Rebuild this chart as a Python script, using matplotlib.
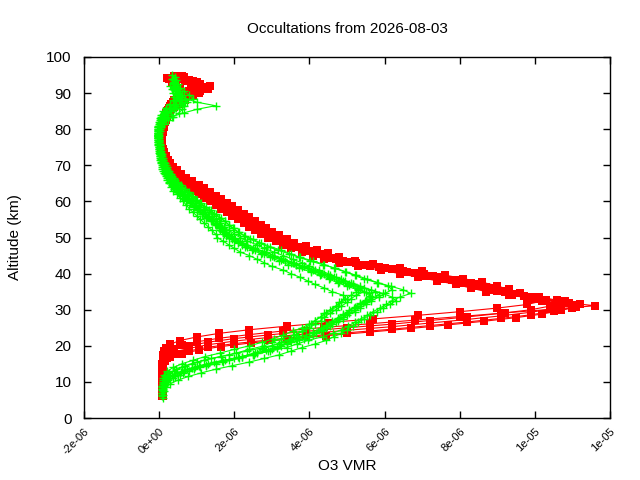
import matplotlib
matplotlib.use("Agg")
import matplotlib.pyplot as plt
import matplotlib.transforms as mtransforms

plt.rcParams['font.family'] = ['Liberation Sans', 'DejaVu Sans']

# ---------------- data (O3 VMR in units of 1e-6) ----------------
red_alt_grid = list(range(6, 95))      # km, 89 levels
red_alt_offsets = [0.0, 0.3, 0.6, 0.1, 0.45, 0.8]
red_a = [0.07, 0.07, 0.07, 0.07, 0.07, 0.07, 0.08, 0.08, 0.08, 0.08, 0.09,
         0.12, 0.2, 0.4, 0.8, 1.3, 2.0, 2.9, 3.9, 5.0, 6.2, 7.2, 8.2, 9.1, 9.9, 10.4,
         10.6, 10.1, 9.3, 8.7, 8.3, 7.9, 7.4, 6.9, 6.4, 5.9, 5.3, 4.8, 4.4, 4.1, 3.8,
         3.5, 3.3, 3.1, 2.9, 2.7, 2.55, 2.4, 2.25, 2.1, 1.95, 1.8, 1.65, 1.5, 1.35, 1.2,
         1.05, 0.92, 0.8, 0.67, 0.55, 0.45, 0.37, 0.29, 0.22, 0.17, 0.12, 0.09, 0.07, 0.06, 0.05,
         0.05, 0.06, 0.07, 0.08, 0.1, 0.12, 0.14, 0.17, 0.21, 0.26, 0.32, 0.4, 0.5, 0.6, 0.55,
         0.45, 0.35, 0.25]
red_b = [0.08, 0.08, 0.08, 0.08, 0.08, 0.08, 0.08, 0.09, 0.09, 0.09, 0.10,
         0.2, 0.4, 0.8, 1.3, 2.0, 2.9, 3.9, 5.0, 6.2, 7.2, 8.2, 9.1, 9.9, 10.5, 11.0,
         10.8, 10.0, 9.4, 9.0, 8.7, 8.3, 7.8, 7.3, 6.8, 6.2, 5.5, 5.0, 4.6, 4.3, 4.0,
         3.7, 3.45, 3.25, 3.05, 2.85, 2.7, 2.55, 2.4, 2.25, 2.1, 1.95, 1.8, 1.65, 1.5, 1.35,
         1.2, 1.05, 0.9, 0.75, 0.62, 0.5, 0.42, 0.33, 0.26, 0.2, 0.15, 0.11, 0.08, 0.07, 0.06,
         0.06, 0.07, 0.08, 0.1, 0.12, 0.14, 0.17, 0.2, 0.26, 0.33, 0.42, 0.55, 0.7, 0.85, 0.95,
         0.9, 0.7, 0.5]
red_c = [0.09, 0.09, 0.09, 0.09, 0.09, 0.09, 0.1, 0.1, 0.1, 0.11, 0.2,
         0.4, 0.8, 1.3, 2.0, 2.9, 3.9, 5.0, 6.2, 7.2, 8.2, 9.1, 9.9, 10.5, 11.0, 11.2,
         10.6, 10.1, 9.6, 9.3, 9.0, 8.6, 8.1, 7.6, 7.0, 6.4, 5.7, 5.2, 4.8, 4.5, 4.2,
         3.9, 3.6, 3.4, 3.2, 3.0, 2.85, 2.7, 2.55, 2.4, 2.25, 2.1, 1.95, 1.8, 1.65, 1.5,
         1.35, 1.2, 1.05, 0.88, 0.72, 0.58, 0.48, 0.38, 0.3, 0.23, 0.17, 0.13, 0.1, 0.08, 0.07,
         0.07, 0.08, 0.1, 0.12, 0.14, 0.17, 0.2, 0.25, 0.32, 0.42, 0.55, 0.7, 0.9, 1.1, 1.25,
         1.1, 0.8, 0.6]
red_d = [0.1, 0.1, 0.1, 0.1, 0.1, 0.1, 0.1, 0.11, 0.11, 0.11, 0.12,
         0.13, 0.2, 0.35, 0.6, 1.0, 1.6, 2.4, 3.3, 4.4, 5.6, 6.8, 8.0, 9.2, 10.4, 11.6,
         10.7, 9.9, 9.4, 9.1, 8.8, 8.5, 8.0, 7.5, 7.0, 6.4, 5.6, 5.1, 4.7, 4.4, 4.1,
         3.8, 3.55, 3.35, 3.15, 2.95, 2.8, 2.65, 2.5, 2.35, 2.2, 2.05, 1.9, 1.75, 1.6, 1.45,
         1.3, 1.15, 1.0, 0.85, 0.7, 0.57, 0.47, 0.37, 0.29, 0.22, 0.16, 0.12, 0.09, 0.07, 0.06,
         0.06, 0.07, 0.09, 0.11, 0.13, 0.16, 0.19, 0.23, 0.3, 0.4, 0.52, 0.68, 0.85, 1.05, 1.3,
         1.35, 1.0, 0.2]
red_e = [0.08, 0.08, 0.08, 0.08, 0.08, 0.08, 0.09, 0.09, 0.09, 0.1, 0.1,
         0.11, 0.13, 0.18, 0.3, 0.55, 1.0, 1.6, 2.4, 3.4, 4.5, 5.7, 6.9, 8.0, 9.0, 9.8,
         10.2, 9.9, 9.3, 8.9, 8.5, 8.1, 7.6, 7.1, 6.6, 6.0, 5.4, 4.9, 4.5, 4.2, 3.9,
         3.6, 3.35, 3.15, 2.95, 2.78, 2.62, 2.48, 2.33, 2.18, 2.03, 1.88, 1.73, 1.58, 1.43, 1.28,
         1.13, 0.98, 0.84, 0.7, 0.58, 0.47, 0.39, 0.31, 0.24, 0.18, 0.14, 0.1, 0.08, 0.06, 0.05,
         0.05, 0.06, 0.07, 0.09, 0.11, 0.13, 0.16, 0.19, 0.24, 0.3, 0.38, 0.5, 0.65, 0.8, 1.0,
         1.1, 0.9, 0.65]
red_f = [0.09, 0.09, 0.09, 0.1, 0.1, 0.1, 0.1, 0.1, 0.11, 0.15, 0.3,
         0.6, 1.05, 1.65, 2.45, 3.4, 4.45, 5.6, 6.7, 7.7, 8.65, 9.5, 10.2, 10.7, 11.1, 10.9,
         10.3, 9.7, 9.2, 8.85, 8.5, 8.05, 7.55, 7.05, 6.5, 5.85, 5.25, 4.8, 4.45, 4.15, 3.85,
         3.58, 3.38, 3.18, 2.98, 2.8, 2.63, 2.48, 2.33, 2.18, 2.03, 1.88, 1.72, 1.57, 1.42, 1.28,
         1.12, 0.97, 0.82, 0.68, 0.56, 0.46, 0.37, 0.3, 0.23, 0.17, 0.13, 0.1, 0.08, 0.07, 0.06,
         0.06, 0.07, 0.08, 0.1, 0.12, 0.15, 0.18, 0.22, 0.28, 0.36, 0.46, 0.6, 0.75, 0.9, 1.0,
         0.85, 0.6, 0.4]
red_profiles = [red_a, red_b, red_c, red_d, red_e, red_f]

green_alt_grid = list(range(7, 94))    # km, 87 levels
green_alt_offsets = [-1.0, 1.0, 0.0, 1.5, 0.5, -0.5, 2.0, -1.5, 0.8]
green_a = [0.07, 0.08, 0.08, 0.12, 0.2, 0.36, 0.55, 0.8, 1.1, 1.5, 1.85, 2.2, 2.55, 2.75,
           3.0, 3.25, 3.5, 3.65, 3.8, 3.9, 4.05, 4.15, 4.3, 4.4, 4.55, 4.7, 4.8, 4.95, 4.9,
           4.6, 4.4, 4.15, 3.95, 3.75, 3.5, 3.3, 3.0, 2.8, 2.6, 2.4, 2.15, 2.0, 1.85, 1.7,
           1.55, 1.5, 1.4, 1.3, 1.2, 1.1, 1.0, 0.9, 0.8, 0.72, 0.64, 0.55, 0.47, 0.38, 0.31,
           0.26, 0.21, 0.17, 0.13, 0.08, 0.07, 0.04, 0.03, 0.02, 0.0, -0.01, -0.02, -0.03, -0.02, -0.01,
           0.01, 0.04, 0.08, 0.15, 0.24, 0.32, 0.4, 0.45, 0.44, 0.4, 0.36, 0.33, 0.3]
green_b = [0.08, 0.08, 0.09, 0.14, 0.23, 0.4, 0.6, 0.88, 1.2, 1.65, 2.05, 2.4, 2.8, 3.0,
           3.25, 3.6, 3.8, 4.0, 4.15, 4.3, 4.4, 4.55, 4.7, 4.85, 5.0, 5.1, 5.25, 5.45, 5.35,
           5.05, 4.8, 4.55, 4.3, 4.1, 3.85, 3.6, 3.3, 3.05, 2.85, 2.5, 2.2, 2.0, 1.85, 1.72,
           1.62, 1.63, 1.53, 1.44, 1.32, 1.21, 1.09, 0.98, 0.88, 0.79, 0.7, 0.6, 0.51, 0.42, 0.34,
           0.28, 0.23, 0.19, 0.14, 0.09, 0.07, 0.05, 0.03, 0.02, 0.0, -0.01, -0.02, -0.02, -0.02, -0.01,
           0.01, 0.05, 0.09, 0.18, 0.3, 0.42, 0.52, 0.56, 0.54, 0.47, 0.42, 0.39, 0.37]
green_c = [0.08, 0.09, 0.1, 0.15, 0.25, 0.42, 0.65, 0.95, 1.3, 1.75, 2.2, 2.6, 3.0, 3.25,
           3.5, 3.85, 4.1, 4.3, 4.45, 4.6, 4.75, 4.9, 5.05, 5.2, 5.35, 5.5, 5.65, 5.85, 5.75,
           5.45, 5.15, 4.9, 4.65, 4.4, 4.15, 3.85, 3.55, 3.3, 3.05, 2.8, 2.55, 2.35, 2.15, 2.0,
           1.85, 1.75, 1.65, 1.55, 1.42, 1.3, 1.17, 1.05, 0.95, 0.85, 0.75, 0.65, 0.55, 0.45, 0.37,
           0.3, 0.25, 0.2, 0.15, 0.1, 0.08, 0.05, 0.03, 0.02, 0.0, -0.01, -0.02, -0.02, -0.02, -0.01,
           0.01, 0.05, 0.1, 0.2, 0.32, 0.45, 0.55, 0.6, 0.58, 0.5, 0.45, 0.42, 0.4]
green_d = [0.08, 0.1, 0.11, 0.16, 0.27, 0.45, 0.69, 1.0, 1.38, 1.85, 2.33, 2.75, 3.18, 3.45,
           3.7, 4.1, 4.35, 4.55, 4.7, 4.9, 5.0, 5.2, 5.35, 5.5, 5.65, 5.85, 6.0, 6.2, 6.1,
           5.8, 5.45, 5.2, 4.95, 4.65, 4.4, 4.1, 3.75, 3.5, 3.25, 2.95, 2.7, 2.5, 2.28, 2.12,
           1.96, 1.85, 1.75, 1.64, 1.5, 1.38, 1.24, 1.11, 1.0, 0.9, 0.8, 0.69, 0.58, 0.48, 0.39,
           0.32, 0.26, 0.21, 0.16, 0.11, 0.08, 0.05, 0.03, 0.02, 0.0, -0.01, -0.02, -0.02, -0.02, -0.01,
           0.02, 0.06, 0.12, 0.25, 0.45, 0.7, 0.9, 0.8, 0.65, 0.55, 0.5, 0.45, 0.42]
green_e = [0.09, 0.1, 0.11, 0.17, 0.28, 0.47, 0.73, 1.07, 1.47, 1.98, 2.49, 2.94, 3.39, 3.67,
           3.96, 4.35, 4.63, 4.86, 5.03, 5.2, 5.37, 5.54, 5.7, 5.88, 6.05, 6.2, 6.4, 6.7, 6.5,
           6.16, 5.82, 5.54, 5.25, 4.97, 4.69, 4.35, 4.01, 3.73, 3.45, 3.16, 2.88, 2.66, 2.43, 2.26,
           2.09, 1.98, 1.86, 1.75, 1.6, 1.47, 1.32, 1.19, 1.07, 0.96, 0.85, 0.73, 0.62, 0.51, 0.42,
           0.34, 0.28, 0.23, 0.17, 0.11, 0.09, 0.06, 0.03, 0.02, 0.0, -0.01, -0.02, -0.03, -0.03, -0.02,
           0.02, 0.05, 0.11, 0.22, 0.4, 0.6, 0.75, 0.7, 0.6, 0.52, 0.47, 0.43, 0.4]
green_f = [0.08, 0.09, 0.1, 0.15, 0.24, 0.41, 0.63, 0.92, 1.26, 1.7, 2.13, 2.52, 2.91, 3.15,
           3.4, 3.73, 3.98, 4.17, 4.32, 4.46, 4.61, 4.75, 4.9, 5.04, 5.19, 5.34, 5.48, 5.67, 5.58,
           5.29, 5.0, 4.75, 4.51, 4.27, 4.03, 3.73, 3.44, 3.2, 2.96, 2.72, 2.47, 2.28, 2.09, 1.94,
           1.79, 1.7, 1.6, 1.5, 1.38, 1.26, 1.13, 1.02, 0.92, 0.82, 0.73, 0.63, 0.53, 0.44, 0.36,
           0.29, 0.24, 0.19, 0.15, 0.1, 0.08, 0.05, 0.03, 0.02, 0.0, -0.01, -0.02, -0.02, -0.02, -0.01,
           0.03, 0.08, 0.18, 0.35, 0.65, 1.0, 1.5, 1.0, 0.7, 0.55, 0.45, 0.4, 0.38]
green_g = [0.08, 0.09, 0.1, 0.13, 0.22, 0.38, 0.6, 0.9, 1.22, 1.62, 2.0, 2.4, 2.75, 3.05,
           3.3, 3.55, 3.8, 4.0, 4.15, 4.3, 4.45, 4.6, 4.75, 4.85, 5.0, 5.1, 5.25, 5.3, 5.15,
           4.95, 4.7, 4.5, 4.25, 4.0, 3.8, 3.55, 3.3, 3.05, 2.8, 2.6, 2.35, 2.15, 2.0, 1.86,
           1.73, 1.62, 1.52, 1.42, 1.32, 1.2, 1.08, 0.97, 0.87, 0.78, 0.69, 0.6, 0.5, 0.41, 0.33,
           0.27, 0.22, 0.18, 0.13, 0.09, 0.07, 0.05, 0.03, 0.02, 0.0, -0.01, -0.02, -0.02, -0.02, -0.01,
           0.02, 0.05, 0.1, 0.17, 0.28, 0.38, 0.46, 0.5, 0.48, 0.43, 0.4, 0.37, 0.35]
green_h = [0.09, 0.1, 0.12, 0.18, 0.3, 0.5, 0.78, 1.12, 1.5, 1.95, 2.4, 2.8, 3.2, 3.5,
           3.8, 4.15, 4.45, 4.65, 4.85, 5.0, 5.15, 5.3, 5.45, 5.6, 5.8, 5.95, 6.15, 6.3, 6.2,
           5.95, 5.65, 5.35, 5.1, 4.85, 4.55, 4.25, 3.95, 3.65, 3.35, 3.05, 2.8, 2.55, 2.35, 2.2,
           2.02, 1.9, 1.78, 1.66, 1.53, 1.4, 1.26, 1.13, 1.02, 0.92, 0.82, 0.71, 0.6, 0.49, 0.4,
           0.33, 0.27, 0.22, 0.16, 0.11, 0.08, 0.05, 0.03, 0.02, 0.0, -0.01, -0.02, -0.03, -0.02, -0.01,
           0.02, 0.06, 0.12, 0.24, 0.38, 0.52, 0.62, 0.66, 0.62, 0.54, 0.48, 0.44, 0.41]
green_i = [0.08, 0.09, 0.12, 0.2, 0.35, 0.58, 0.88, 1.25, 1.68, 2.1, 2.5, 2.85, 3.15, 3.4,
           3.65, 3.9, 4.1, 4.3, 4.45, 4.6, 4.75, 4.9, 5.05, 5.2, 5.35, 5.5, 5.6, 5.5, 5.3,
           5.05, 4.8, 4.55, 4.3, 4.05, 3.8, 3.5, 3.25, 3.0, 2.75, 2.5, 2.3, 2.1, 1.95, 1.8,
           1.68, 1.58, 1.48, 1.38, 1.27, 1.16, 1.04, 0.93, 0.83, 0.74, 0.66, 0.57, 0.48, 0.39, 0.32,
           0.26, 0.21, 0.17, 0.12, 0.08, 0.06, 0.04, 0.03, 0.01, 0.0, -0.01, -0.02, -0.02, -0.02, -0.01,
           0.01, 0.04, 0.08, 0.16, 0.26, 0.36, 0.45, 0.5, 0.48, 0.43, 0.39, 0.36, 0.34]
green_profiles = [green_a, green_b, green_c, green_d, green_e, green_f,
                  green_g, green_h, green_i]

vmr_unit = 1e-6
x_ticks = [-2e-6, 0.0, 2e-6, 4e-6, 6e-6, 8e-6, 1e-5, 1.2e-5]
x_tick_labels = ["-2e-06", "0e+00", "2e-06", "4e-06", "6e-06", "8e-06", "1e-05", "1e-05"]
y_ticks = [0, 10, 20, 30, 40, 50, 60, 70, 80, 90, 100]
title = "Occultations from 2026-08-03"
xlabel = "O3 VMR"
ylabel = "Altitude (km)"

# ---------------- plot ----------------
fig = plt.figure(figsize=(6.4, 4.8), dpi=100)
ax = fig.add_axes([84 / 640, 62 / 480, 526 / 640, 361 / 480])

for prof, off in zip(red_profiles, red_alt_offsets):
    ax.plot([v * vmr_unit for v in prof], [a + off for a in red_alt_grid],
            color='#ff0000', lw=0.8, marker='s', markersize=5.4,
            markeredgewidth=0, zorder=2)

for prof, off in zip(green_profiles, green_alt_offsets):
    ax.plot([v * vmr_unit for v in prof], [a + off for a in green_alt_grid],
            color='#00ff00', lw=0.8, marker='+', markersize=6.0,
            markeredgewidth=1.0, zorder=3)

ax.set_xlim(-2e-6, 1.2e-5)
ax.set_ylim(0, 100)
ax.set_xticks(x_ticks)
ax.set_xticklabels(x_tick_labels, rotation=45, ha='right', va='top',
                   rotation_mode='anchor', fontsize=8)
shift = mtransforms.ScaledTranslation(5 / 100, -2 / 100, fig.dpi_scale_trans)
for lab in ax.get_xticklabels():
    lab.set_transform(lab.get_transform() + shift)
ax.set_yticks(y_ticks)
ax.tick_params(axis='both', direction='in', length=5, width=1,
               top=True, right=True, color='black')
ax.tick_params(axis='y', labelsize=11, pad=9)
ax.tick_params(axis='x', pad=6)
for sp in ax.spines.values():
    sp.set_linewidth(1.0)

ax.set_title(title, fontsize=11, pad=17)
ax.set_xlabel(xlabel, fontsize=11, labelpad=2)
ax.set_ylabel(ylabel, fontsize=11, labelpad=17)

fig.savefig("out.png", dpi=100)
